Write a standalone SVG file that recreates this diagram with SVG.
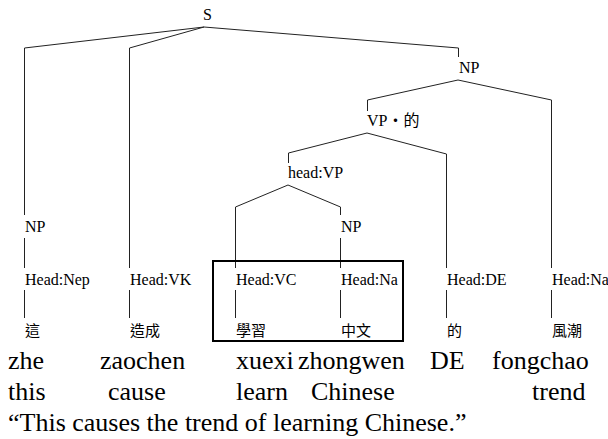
<svg xmlns="http://www.w3.org/2000/svg" width="608" height="439" viewBox="0 0 608 439">
  <style>
    .lbl { font-family: "Liberation Serif", "Noto Sans CJK TC", serif; font-size: 16px; fill: #000; }
    .zh { font-family: "Noto Sans CJK TC", sans-serif; font-size: 15px; fill: #000; }
    .gloss { font-family: "Liberation Serif", "Times New Roman", serif; font-size: 26px; fill: #000; }
    .edge { fill: none; stroke: #222; stroke-width: 1; }
  </style>
  <rect width="608" height="439" fill="#fff"/>

  <!-- tree branches -->
  <g id="connectors" class="edge">
    <!-- S -->
    <polyline points="204,27 24.5,48 24.5,215"/>
    <polyline points="204,27 129.5,48 129.5,268"/>
    <polyline points="204,27 458.5,48 458.5,57"/>
    <!-- NP (object) -->
    <polyline points="458,80 367.5,100 367.5,111"/>
    <polyline points="458,80 551.5,100 551.5,268"/>
    <!-- VP.DE -->
    <polyline points="367,133 288.5,153 288.5,163"/>
    <polyline points="367,133 446.5,154 446.5,268"/>
    <!-- head:VP -->
    <polyline points="288,185 235.5,207 235.5,268"/>
    <polyline points="288,185 340.5,207 340.5,215"/>
    <!-- NP to head -->
    <line x1="24.5" y1="238" x2="24.5" y2="268"/>
    <line x1="340.5" y1="238" x2="340.5" y2="268"/>
    <!-- head to word -->
    <line x1="24.5" y1="290" x2="24.5" y2="318"/>
    <line x1="129.5" y1="290" x2="129.5" y2="318"/>
    <line x1="235.5" y1="290" x2="235.5" y2="318"/>
    <line x1="340.5" y1="290" x2="340.5" y2="318"/>
    <line x1="446.5" y1="290" x2="446.5" y2="318"/>
    <line x1="551.5" y1="290" x2="551.5" y2="318"/>
  </g>

  <!-- highlight around the VP head and its object -->
  <rect id="vp-box" x="213" y="261" width="190" height="80" fill="none" stroke="#000" stroke-width="2"/>

  <g id="node-s"><text class="lbl" x="203" y="20">S</text></g>
  <g id="node-np-obj"><text class="lbl" x="459" y="73">NP</text></g>
  <g id="node-vp-de"><text class="lbl" x="367" y="126">VP‧的</text></g>
  <g id="node-head-vp"><text class="lbl" x="288" y="178">head:VP</text></g>
  <g id="node-np-subj"><text class="lbl" x="25" y="232">NP</text></g>
  <g id="node-np-na"><text class="lbl" x="341" y="232">NP</text></g>

  <g id="leaf-zhe">
    <text class="lbl" x="25" y="285">Head:Nep</text>
    <text class="zh" x="25" y="336">這</text>
  </g>
  <g id="leaf-zaochen">
    <text class="lbl" x="130" y="285">Head:VK</text>
    <text class="zh" x="130" y="336">造成</text>
  </g>
  <g id="leaf-xuexi">
    <text class="lbl" x="236" y="285">Head:VC</text>
    <text class="zh" x="236" y="336">學習</text>
  </g>
  <g id="leaf-zhongwen">
    <text class="lbl" x="341" y="285">Head:Na</text>
    <text class="zh" x="341" y="336">中文</text>
  </g>
  <g id="leaf-de">
    <text class="lbl" x="447" y="285">Head:DE</text>
    <text class="zh" x="447" y="336">的</text>
  </g>
  <g id="leaf-fongchao">
    <text class="lbl" x="552" y="285">Head:Na</text>
    <text class="zh" x="552" y="336">風潮</text>
  </g>

  <!-- romanisation, gloss and translation -->
  <g id="gloss-lines" class="gloss">
    <text x="8" y="369">zhe</text>
    <text x="100" y="369">zaochen</text>
    <text x="236" y="369">xuexi</text>
    <text x="298" y="369">zhongwen</text>
    <text x="430" y="369">DE</text>
    <text x="492" y="369">fongchao</text>
    <text x="8" y="400">this</text>
    <text x="108" y="400">cause</text>
    <text x="236" y="400">learn</text>
    <text x="311" y="400">Chinese</text>
    <text x="532" y="400">trend</text>
    <text x="8" y="431">“This causes the trend of learning Chinese.”</text>
  </g>
</svg>
